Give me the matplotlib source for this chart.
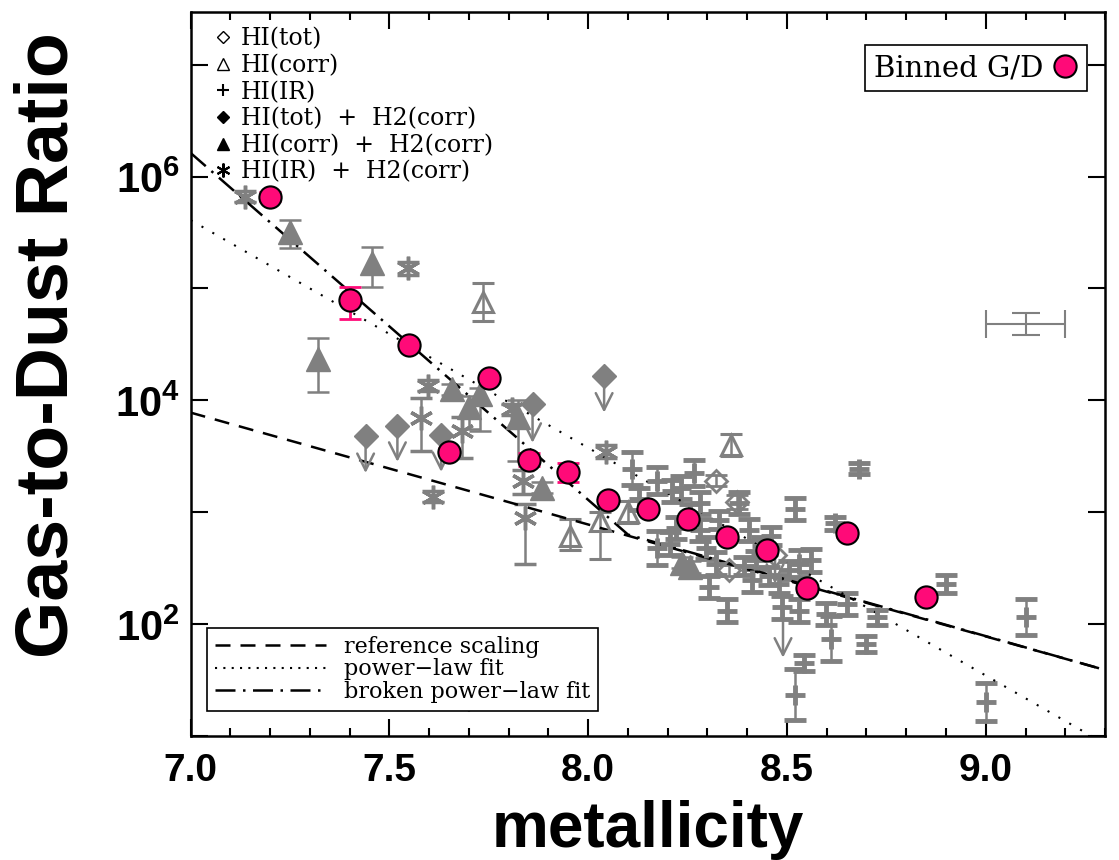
import matplotlib
matplotlib.use('Agg')
import matplotlib.pyplot as plt
from matplotlib.lines import Line2D
from matplotlib.ticker import FixedLocator, MultipleLocator, FuncFormatter
import numpy as np

"""values read off the figure, G/D given as log10"""
# binned G/D (pink)
bin_x = [7.2, 7.4, 7.55, 7.65, 7.75, 7.85, 7.95, 8.05, 8.15, 8.25, 8.35, 8.45, 8.55, 8.65, 8.85]
bin_log = [5.82, 4.90, 4.49, 3.54, 4.20, 3.47, 3.36, 3.11, 3.03, 2.94, 2.78, 2.66, 2.32, 2.81, 2.24]
bin_elo = [0.04, 0.17, 0.03, 0.03, 0.03, 0.06, 0.09, 0.03, 0.03, 0.03, 0.03, 0.03, 0.03, 0.03, 0.03]
bin_ehi = [0.04, 0.11, 0.03, 0.03, 0.03, 0.06, 0.08, 0.03, 0.03, 0.03, 0.03, 0.03, 0.03, 0.03, 0.03]

# HI(tot) open diamonds
hitot_x = [8.375, 8.322, 8.355]
hitot_log = [3.09, 3.28, 2.48]
hitot_err = [0.06, 0.05, 0.05]
# HI(tot) upper limit
hitot_ul_x = [8.47]
hitot_ul_log = [2.62]
hitot_ul_tip = [2.36]

# HI(corr) open triangles
hicorr_x = [7.735, 8.36, 7.954, 8.03, 8.10]
hicorr_log = [4.88, 3.60, 2.79, 2.92, 3.00]
hicorr_elo = [0.17, 0.10, 0.13, 0.34, 0.10]
hicorr_ehi = [0.17, 0.10, 0.15, 0.08, 0.10]

# HI(IR) plus signs
hiir_x = [8.109, 8.174, 8.129, 8.212, 8.267, 8.234, 8.28, 8.222, 8.28, 8.172,
          8.297, 8.322, 8.305, 8.35, 8.413, 8.38, 8.405, 8.423, 8.519, 8.62,
          8.531, 8.56, 8.488, 8.53, 8.598, 8.652, 8.727, 8.699, 8.611, 8.543,
          8.519, 8.682, 8.90, 9.10, 9.00, 8.255, 8.33, 8.205, 8.438, 8.46,
          8.456, 8.48, 8.506, 8.393]
hiir_log = [3.39, 3.28, 3.12, 3.19, 3.35, 3.22, 3.08, 2.86, 2.84, 2.68,
            2.68, 2.54, 2.33, 2.12, 2.39, 3.08, 2.84, 2.57, 3.03, 2.90,
            2.54, 2.57, 2.15, 2.12, 2.09, 2.18, 2.06, 1.82, 1.87, 1.65,
            1.37, 3.39, 2.36, 2.06, 1.30, 2.99, 2.93, 2.72, 2.70, 2.79,
            2.43, 2.36, 2.48, 2.52]
hiir_err = [0.15, 0.12, 0.10, 0.10, 0.12, 0.10, 0.10, 0.10, 0.10, 0.15,
            0.10, 0.10, 0.10, 0.10, 0.10, 0.10, 0.10, 0.08, 0.10, 0.06,
            0.12, 0.10, 0.10, 0.10, 0.10, 0.10, 0.07, 0.07, 0.20, 0.07,
            0.23, 0.05, 0.08, 0.16, 0.17, 0.08, 0.08, 0.10, 0.08, 0.08,
            0.08, 0.08, 0.08, 0.08]
# HI(IR) upper limit
hiir_ul_x = [8.49]
hiir_ul_log = [2.10]
hiir_ul_tip = [1.70]

# HI(tot) + H2(corr) filled diamonds (upper limits)
tot_h2_x = [7.44, 7.52, 7.63, 7.86, 8.04, 7.70]
tot_h2_log = [3.68, 3.77, 3.69, 3.97, 4.22, 1.54]
tot_h2_tip = [3.35, 3.45, 3.36, 3.62, 3.89, 1.20]

# HI(corr) + H2(corr) filled triangles
corr_h2_x = [7.25, 7.456, 7.32, 7.657, 7.727, 7.70, 7.823, 7.885, 8.255, 8.235]
corr_h2_log = [5.50, 5.23, 4.37, 4.10, 4.06, 3.94, 3.85, 3.22, 2.51, 2.55]
corr_h2_elo = [0.14, 0.22, 0.30, 0.05, 0.33, 0.20, 0.39, 0.05, 0.05, 0.05]
corr_h2_ehi = [0.11, 0.14, 0.19, 0.05, 0.05, 0.10, 0.15, 0.05, 0.05, 0.05]

# HI(IR) + H2(corr) asterisks
ir_h2_x = [7.137, 7.546, 7.597, 7.58, 7.683, 7.61, 7.809, 7.836, 7.84, 8.045]
ir_h2_log = [5.82, 5.18, 4.13, 3.84, 3.73, 3.14, 3.92, 3.28, 2.95, 3.54]
ir_h2_elo = [0.05, 0.06, 0.05, 0.29, 0.25, 0.05, 0.05, 0.12, 0.41, 0.06]
ir_h2_ehi = [0.05, 0.06, 0.05, 0.18, 0.12, 0.05, 0.05, 0.10, 0.12, 0.06]

# fit lines (end/break points)
ref_x = [7.0, 9.3]
ref_log = [3.89, 1.59]
pl_x = [7.0, 9.3]
pl_log = [5.61, 0.93]
bpl_x = [7.0, 8.10, 9.3]
bpl_log = [6.21, 2.80, 1.59]

# typical error bar sample
samp_x, samp_log, samp_xerr, samp_yerr = 9.1, 4.68, 0.1, 0.10

grey = '#808080'
pink = '#ff0a78'


def dex(logv, lo, hi):
    logv = np.asarray(logv); lo = np.asarray(lo); hi = np.asarray(hi)
    v = 10**logv
    return v, [v - 10**(logv - lo), 10**(logv + hi) - v]


plt.rcParams['mathtext.fontset'] = 'custom'
plt.rcParams['mathtext.bf'] = 'Liberation Sans:bold'
plt.rcParams['mathtext.rm'] = 'Liberation Sans:bold'

fig = plt.figure(figsize=(11.19, 8.6), dpi=100)
ax = fig.add_axes([0.1704, 0.1442, 0.8171, 0.8418])
ax.set_yscale('log')

ekw = dict(ls='none', color=grey, ecolor=grey, elinewidth=1.8, capthick=1.8, capsize=8)

# grey points
v, e = dex(hitot_log, hitot_err, hitot_err)
ax.errorbar(hitot_x, v, yerr=e, marker='D', ms=11, mfc='none', mec=grey, mew=2, **ekw)
ax.plot(hitot_ul_x, 10**np.array(hitot_ul_log), 'D', ms=11, mfc='none', mec=grey, mew=2)

v, e = dex(hicorr_log, hicorr_elo, hicorr_ehi)
ax.errorbar(hicorr_x, v, yerr=e, marker='^', ms=15, mfc='none', mec=grey, mew=2.2, **ekw)

v, e = dex(hiir_log, hiir_err, hiir_err)
ax.errorbar(hiir_x, v, yerr=e, marker='+', ms=15, mew=3.5, **ekw)

v, e = dex(corr_h2_log, corr_h2_elo, corr_h2_ehi)
ax.errorbar(corr_h2_x, v, yerr=e, marker='^', ms=17, mfc=grey, mec=grey, **ekw)

v, e = dex(ir_h2_log, ir_h2_elo, ir_h2_ehi)
ax.errorbar(ir_h2_x, v, yerr=e, marker=(6, 2, 0), ms=17, mew=2.5, **ekw)

ax.plot(tot_h2_x, 10**np.array(tot_h2_log), 'D', ms=12, color=grey, ls='none')

# upper limit arrows
for xs, ys, ts in [(tot_h2_x, tot_h2_log, tot_h2_tip),
                   (hitot_ul_x, hitot_ul_log, hitot_ul_tip),
                   (hiir_ul_x, hiir_ul_log, hiir_ul_tip)]:
    for x0, y0, t0 in zip(xs, ys, ts):
        ax.annotate('', xy=(x0, 10**t0), xytext=(x0, 10**y0),
                    arrowprops=dict(arrowstyle='->', color=grey, lw=1.8,
                                    mutation_scale=30, shrinkA=0, shrinkB=0))

ax.errorbar([samp_x], [10**samp_log], xerr=[samp_xerr],
            yerr=[[10**samp_log - 10**(samp_log - samp_yerr)], [10**(samp_log + samp_yerr) - 10**samp_log]],
            ls='none', color=grey, elinewidth=1.5, capthick=1.5, capsize=10)

# fit lines
ax.plot(ref_x, 10**np.array(ref_log), color='k', lw=1.8, ls=(0, (6, 4)))
ax.plot(pl_x, 10**np.array(pl_log), color='k', lw=1.5, ls=(0, (1, 5)))
ax.plot(bpl_x, 10**np.array(bpl_log), color='k', lw=1.8, ls=(0, (8, 3, 1, 3)))

# binned points
v, e = dex(bin_log, bin_elo, bin_ehi)
ax.errorbar(bin_x, v, yerr=e, ls='none', ecolor=pink, elinewidth=2, capthick=2, capsize=8, zorder=5)
ax.plot(bin_x, v, 'o', ms=16, mfc=pink, mec='k', mew=1.5, zorder=6)

ax.set_xlim(7.0, 9.3)
ax.set_ylim(10, 10**7.47)

ax.xaxis.set_major_locator(MultipleLocator(0.5))
ax.xaxis.set_minor_locator(MultipleLocator(0.1))
ax.yaxis.set_major_locator(FixedLocator([10.0**k for k in range(1, 8)]))
ax.yaxis.set_minor_locator(FixedLocator([]))
ax.yaxis.set_major_formatter(FuncFormatter(
    lambda val, pos: r'$\mathbf{10^{%d}}$' % round(np.log10(val)) if round(np.log10(val)) % 2 == 0 else ''))
ax.xaxis.set_major_formatter(FuncFormatter(lambda val, pos: '%.1f' % val))

ax.tick_params(which='both', direction='in', top=True, right=True, width=1.5)
ax.tick_params(which='major', length=12)
ax.tick_params(which='minor', length=6)
ax.tick_params(axis='x', which='major', pad=12)
ax.tick_params(axis='y', which='major', pad=8)
for lab in ax.get_xticklabels():
    lab.set_fontfamily('Liberation Sans')
    lab.set_fontweight('bold')
    lab.set_fontsize(28)
for lab in ax.get_yticklabels():
    lab.set_fontsize(30)
for s in ax.spines.values():
    s.set_linewidth(1.8)

ax.set_xlabel('metallicity', fontfamily='Liberation Sans', fontweight='bold', fontsize=46, labelpad=8)
ax.set_ylabel('Gas-to-Dust Ratio', fontfamily='Liberation Sans', fontweight='bold', fontsize=53)
ax.yaxis.set_label_coords(-0.118, 0.54)

# legends
serif = dict(family='DejaVu Serif', size=17)
h1 = [Line2D([], [], ls='none', marker='D', ms=6, mfc='none', mec='k', mew=1),
      Line2D([], [], ls='none', marker='^', ms=8, mfc='none', mec='k', mew=1),
      Line2D([], [], ls='none', marker='+', ms=9, color='k', mew=1.5),
      Line2D([], [], ls='none', marker='D', ms=6, color='k'),
      Line2D([], [], ls='none', marker='^', ms=8, color='k'),
      Line2D([], [], ls='none', marker=(6, 2, 0), ms=10, color='k', mew=1.5)]
l1 = ['HI(tot)', 'HI(corr)', 'HI(IR)', 'HI(tot)  +  H2(corr)', 'HI(corr)  +  H2(corr)', 'HI(IR)  +  H2(corr)']
leg1 = ax.legend(h1, l1, loc='upper left', bbox_to_anchor=(0.01, 0.998), frameon=False, prop=serif,
                 handlelength=0.8, handletextpad=0.35, labelspacing=0.15, borderaxespad=0.2)
ax.add_artist(leg1)

h2 = [Line2D([], [], color='k', lw=1.8, ls=(0, (6, 4))),
      Line2D([], [], color='k', lw=1.5, ls=(0, (1, 3))),
      Line2D([], [], color='k', lw=1.8, ls=(0, (8, 3, 1, 3)))]
l2 = ['reference scaling', 'power\u2212law fit', 'broken power\u2212law fit']
leg2 = ax.legend(h2, l2, loc='lower left', bbox_to_anchor=(0.018, 0.035), borderaxespad=0,
                 prop=dict(family='DejaVu Serif', size=16), handlelength=5.0, handletextpad=0.8,
                 labelspacing=0.02, fancybox=False, edgecolor='k', framealpha=1, borderpad=0.35)
leg2.get_frame().set_linewidth(1.2)
ax.add_artist(leg2)

h3 = [Line2D([], [], ls='none', marker='o', ms=16, mfc=pink, mec='k', mew=1.5)]
leg3 = ax.legend(h3, ['Binned G/D'], loc='upper right', bbox_to_anchor=(0.98, 0.954), borderaxespad=0,
                 prop=dict(family='DejaVu Serif', size=21), markerfirst=False, handlelength=0.9,
                 handletextpad=0.3, fancybox=False, edgecolor='k', framealpha=1, borderpad=0.3)
leg3.get_frame().set_linewidth(1.2)

fig.savefig('out.png', dpi=100)
